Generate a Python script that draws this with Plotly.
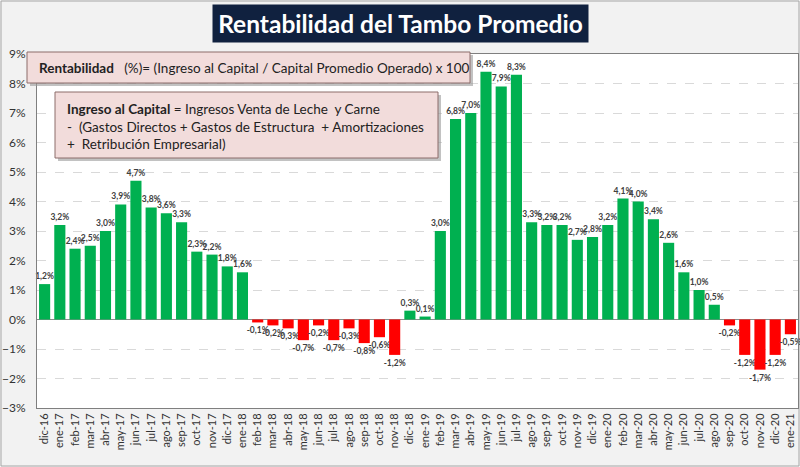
import plotly.graph_objects as go

# Monthly series, dic-16 .. ene-21
months = [
    'dic-16',
    'ene-17', 'feb-17', 'mar-17', 'abr-17', 'may-17', 'jun-17',
    'jul-17', 'ago-17', 'sep-17', 'oct-17', 'nov-17', 'dic-17',
    'ene-18', 'feb-18', 'mar-18', 'abr-18', 'may-18', 'jun-18',
    'jul-18', 'ago-18', 'sep-18', 'oct-18', 'nov-18', 'dic-18',
    'ene-19', 'feb-19', 'mar-19', 'abr-19', 'may-19', 'jun-19',
    'jul-19', 'ago-19', 'sep-19', 'oct-19', 'nov-19', 'dic-19',
    'ene-20', 'feb-20', 'mar-20', 'abr-20', 'may-20', 'jun-20',
    'jul-20', 'ago-20', 'sep-20', 'oct-20', 'nov-20', 'dic-20',
    'ene-21',
]

rentabilidad = [
    1.2,
    3.2, 2.4, 2.5, 3.0, 3.9, 4.7,
    3.8, 3.6, 3.3, 2.3, 2.2, 1.8,
    1.6, -0.1, -0.2, -0.3, -0.7, -0.2,
    -0.7, -0.3, -0.8, -0.6, -1.2, 0.3,
    0.1, 3.0, 6.8, 7.0, 8.4, 7.9,
    8.3, 3.3, 3.2, 3.2, 2.7, 2.8,
    3.2, 4.1, 4.0, 3.4, 2.6, 1.6,
    1.0, 0.5, -0.2, -1.2, -1.7, -1.2,
    -0.5,
]

GREEN = '#00b050'
RED = '#ff0000'
FONT = 'Lato'

labels = [f"{v:.1f}".replace('.', ',') + '%' for v in rentabilidad]
colors = [GREEN if v >= 0 else RED for v in rentabilidad]

fig = go.Figure()
fig.add_trace(go.Bar(
    x=months,
    y=rentabilidad,
    marker=dict(color=colors, line=dict(width=0)),
    text=labels,
    textposition='outside',
    constraintext='none',
    cliponaxis=False,
    textfont=dict(family=FONT, size=8.5, color='#404040', weight='bold'),
    hoverinfo='x+y',
))

# Plot area in px: x 37..798, y 54..408
def px_x(p):
    return (p - 37) / 761

def px_y(p):
    return (408 - p) / 354

shapes = [
    # outer frame of the whole figure
    dict(type='rect', xref='paper', yref='paper',
         x0=px_x(1), x1=px_x(799), y0=px_y(466), y1=px_y(1),
         line=dict(color='#a6a6a6', width=1), layer='below'),
    # formula box shadow + box
    dict(type='rect', xref='paper', yref='paper',
         x0=px_x(30), x1=px_x(473), y0=px_y(86), y1=px_y(55),
         fillcolor='#9a9a9a', line=dict(width=0), layer='above', opacity=0.6),
    dict(type='rect', xref='paper', yref='paper',
         x0=px_x(27), x1=px_x(470), y0=px_y(83), y1=px_y(52),
         fillcolor='#f2dcdb', line=dict(color='#8c6d6b', width=1), layer='above'),
    # definition box shadow + box
    dict(type='rect', xref='paper', yref='paper',
         x0=px_x(58), x1=px_x(441), y0=px_y(161), y1=px_y(95),
         fillcolor='#9a9a9a', line=dict(width=0), layer='above', opacity=0.6),
    dict(type='rect', xref='paper', yref='paper',
         x0=px_x(55), x1=px_x(438), y0=px_y(158), y1=px_y(92),
         fillcolor='#f2dcdb', line=dict(color='#8c6d6b', width=1), layer='above'),
]

annotations = [
    dict(text='<b>Rentabilidad del Tambo Promedio</b>',
         xref='paper', yref='paper', x=px_x(400), y=px_y(23),
         xanchor='center', yanchor='middle', showarrow=False,
         font=dict(family=FONT, size=24.5, color='white'),
         bgcolor='#10213f', borderpad=3, width=369, height=31),
    dict(text='<b>Rentabilidad</b>   (%)= (Ingreso al Capital / Capital Promedio Operado) x 100',
         xref='paper', yref='paper', x=px_x(37), y=px_y(67.5),
         xanchor='left', yanchor='middle', showarrow=False,
         font=dict(family=FONT, size=13.5, color='#222222')),
    dict(text='<b>Ingreso al Capital</b> = Ingresos Venta de Leche  y Carne<br>'
              '-  (Gastos Directos + Gastos de Estructura  + Amortizaciones<br>'
              '+  Retribución Empresarial)',
         xref='paper', yref='paper', x=px_x(65), y=px_y(126),
         xanchor='left', yanchor='middle', align='left', showarrow=False,
         font=dict(family=FONT, size=13.5, color='#222222')),
]

fig.update_layout(
    width=800, height=467,
    margin=dict(l=37, r=2, t=54, b=59),
    paper_bgcolor='#f2f2f2',
    plot_bgcolor='white',
    showlegend=False,
    bargap=0.27,
    font=dict(family=FONT, color='#333333'),
    shapes=shapes,
    annotations=annotations,
)

fig.update_xaxes(
    type='category',
    tickangle=-90,
    tickfont=dict(family=FONT, size=11, color='#333333'),
    showline=True, linecolor='#7f7f7f', linewidth=1, mirror=True,
    showgrid=False,
    ticks='',
)

fig.update_yaxes(
    range=[-3, 9],
    dtick=1,
    ticksuffix='%',
    tickfont=dict(family=FONT, size=12, color='#333333'),
    ticklabelstandoff=8,
    showgrid=True, gridcolor='#d9d9d9', griddash='dash', gridwidth=1,
    zeroline=True, zerolinecolor='#8c8c8c', zerolinewidth=1,
    showline=True, linecolor='#7f7f7f', linewidth=1, mirror=True,
    ticks='',
)

# page body has a default 8px margin; drop it so the 800x467 figure fits the window
fig.write_html("out.html", config={'displayModeBar': False},
               post_script="document.body.style.margin = '0';")
